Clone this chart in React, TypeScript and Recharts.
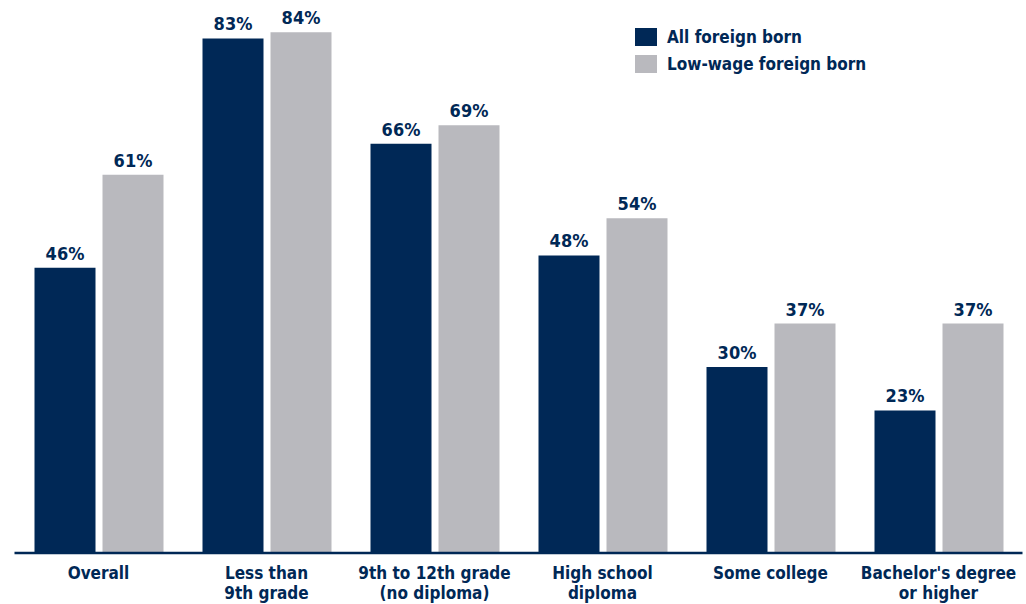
import React from 'react'
import { BarChart, Bar, XAxis, YAxis, LabelList } from 'recharts'

const categories = [
  'Overall',
  'Less than|9th grade',
  '9th to 12th grade|(no diploma)',
  'High school|diploma',
  'Some college',
  "Bachelor's degree|or higher",
]
const allForeignBorn = [46, 83, 66, 48, 30, 23]
const lowWageForeignBorn = [61, 84, 69, 54, 37, 37]
const seriesNames = ['All foreign born', 'Low-wage foreign born']

const NAVY = '#002856'
const GRAY = '#b9b9be'
const FONT = '"DejaVu Sans Condensed", "DejaVu Sans", sans-serif'

const data = categories.map((c, i) => ({
  name: c,
  all: allForeignBorn[i],
  low: lowWageForeignBorn[i],
}))

const CategoryTick = (props: any) => {
  const { x, y, payload } = props
  const lines = String(payload.value).split('|')
  return (
    <text x={x} y={y} textAnchor="middle" fill={NAVY} fontFamily={FONT} fontWeight={700} fontSize={17}>
      {lines.map((l, i) => (
        <tspan key={i} x={x} dy={i === 0 ? 18 : 20}>
          {l}
        </tspan>
      ))}
    </text>
  )
}

const LegendBox = () => (
  <div
    style={{
      position: 'absolute',
      left: 635,
      top: 23,
      fontFamily: FONT,
      fontWeight: 700,
      fontSize: 17,
      color: NAVY,
    }}
  >
    {seriesNames.map((label, i) => (
      <div key={label} style={{ display: 'flex', alignItems: 'center', height: 27 }}>
        <span
          style={{
            width: 22,
            height: 18,
            background: i === 0 ? NAVY : GRAY,
            display: 'inline-block',
            marginRight: 10,
          }}
        />
        <span>{label}</span>
      </div>
    ))}
  </div>
)

const labelStyle = { fill: NAVY, fontFamily: FONT, fontWeight: 700, fontSize: 18 }

const App = () => {
  return (
    <div style={{ position: 'absolute', left: 0, top: 0, width: 1026, height: 604, background: '#fff' }}>
      <BarChart
        width={1026}
        height={604}
        data={data}
        margin={{ top: 0, right: 3.5, bottom: 0, left: 14.5 }}
        barGap={7}
      >
        <XAxis
          dataKey="name"
          height={51}
          interval={0}
          tick={<CategoryTick />}
          tickLine={false}
          axisLine={{ stroke: NAVY, strokeWidth: 2.5 }}
        />
        <YAxis hide domain={[0, 89.2]} allowDataOverflow />
        <Bar dataKey="all" name={seriesNames[0]} fill={NAVY} barSize={61} isAnimationActive={false}>
          <LabelList dataKey="all" position="top" offset={8} formatter={(v: any) => `${v}%`} style={labelStyle} />
        </Bar>
        <Bar dataKey="low" name={seriesNames[1]} fill={GRAY} barSize={61} isAnimationActive={false}>
          <LabelList dataKey="low" position="top" offset={8} formatter={(v: any) => `${v}%`} style={labelStyle} />
        </Bar>
      </BarChart>
      <LegendBox />
    </div>
  )
}

export default App
